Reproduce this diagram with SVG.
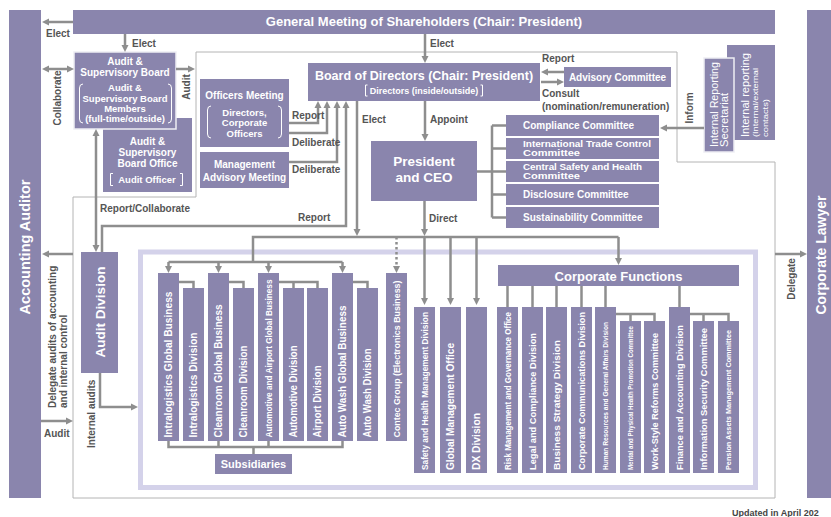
<svg xmlns="http://www.w3.org/2000/svg" width="831" height="517" viewBox="0 0 831 517">
<defs>
<style>
.b{fill:#8a85ad}
.bo{fill:#8a85ad;stroke:#eeeef4;stroke-width:1.5}
text{font-family:"Liberation Sans",Arial,Helvetica,sans-serif;font-weight:bold}
.w{fill:#fff}
.r{font-weight:normal}
.l{fill:#555;font-size:10px}
.c{stroke:#8e8e8e;stroke-width:2.5;fill:none}
.e{marker-end:url(#ah)}
.s{marker-start:url(#as)}
.o{stroke:#b4b4b4;stroke-width:1;fill:none}
.br{stroke:#fff;stroke-width:1;fill:none}
.v{fill:#fff}
</style>
<marker id="ah" viewBox="0 0 7 8" refX="3" refY="4" markerWidth="7" markerHeight="8" markerUnits="userSpaceOnUse" orient="auto"><path d="M0,0.5 L7,4 L0,7.5 z" fill="#8e8e8e"/></marker>
<marker id="as" viewBox="0 0 7 8" refX="3" refY="4" markerWidth="7" markerHeight="8" markerUnits="userSpaceOnUse" orient="auto-start-reverse"><path d="M0,0.5 L7,4 L0,7.5 z" fill="#8e8e8e"/></marker>
</defs>
<rect width="831" height="517" fill="#fff"/>

<g id="frames">
<path class="o" d="M196,52 H677 V162 H775 V498 H73 V197 H196 Z"/>
<rect x="140.5" y="252" width="615" height="235.5" fill="none" stroke="#d4d2ea" stroke-width="5"/>
</g>

<g id="accounting-auditor"><rect class="b" x="9" y="10" width="32" height="488"/><text class="w" font-size="14.5" text-anchor="middle" transform="translate(30,247) rotate(-90)">Accounting Auditor</text></g>
<g id="corporate-lawyer"><rect class="b" x="807" y="10" width="30" height="488"/><text class="w" font-size="14" text-anchor="middle" transform="translate(826,255) rotate(-90)">Corporate Lawyer</text></g>
<g id="general-meeting"><rect class="b" x="73" y="10" width="702" height="24"/><text class="w" font-size="13" x="424" y="26" text-anchor="middle">General Meeting of Shareholders (Chair: President)</text></g>

<g id="asb-office"><rect class="b" x="103" y="118" width="89" height="74"/>
<g class="w" font-size="10" text-anchor="middle"><text x="147.5" y="144.5">Audit &amp;</text><text x="147.5" y="156">Supervisory</text><text x="147.5" y="167">Board Office</text><text x="147" y="182.5" font-size="9.5">Audit Officer</text></g>
<path class="br" d="M113,173.5 H110.5 V185.5 H113 M180,173.5 H182.5 V185.5 H180"/></g>

<g id="asb"><rect class="bo" x="74" y="52" width="102" height="77"/>
<g class="w" text-anchor="middle"><text x="125" y="65" font-size="10">Audit &amp;</text><text x="125" y="76" font-size="10">Supervisory Board</text>
<text x="125" y="91" font-size="9.5">Audit &amp;</text><text x="125" y="102" font-size="9.5">Supervisory Board</text><text x="125" y="112" font-size="9.5">Members</text><text x="125" y="122" font-size="9.5">(full-time/outside)</text></g>
<path class="br" d="M83,84 Q79.5,84 79.5,88 V119 Q79.5,123 83,123 M168,84 Q171.5,84 171.5,88 V119 Q171.5,123 168,123"/></g>

<g id="officers-meeting"><rect class="b" x="200" y="79" width="89" height="68"/>
<g class="w" text-anchor="middle"><text x="244.5" y="99" font-size="10">Officers Meeting</text><text x="244.5" y="115.5" font-size="9.5">Directors,</text><text x="244.5" y="126" font-size="9.5">Corporate</text><text x="244.5" y="137" font-size="9.5">Officers</text></g>
<path class="br" d="M211,106 Q207.5,106 207.5,110 V134 Q207.5,138 211,138 M278,106 Q281.5,106 281.5,110 V134 Q281.5,138 278,138"/></g>

<g id="management-advisory"><rect class="b" x="200" y="152" width="89" height="36"/>
<g class="w" font-size="10" text-anchor="middle"><text x="244.5" y="168">Management</text><text x="244.5" y="181">Advisory Meeting</text></g></g>

<g id="board"><rect class="b" x="308" y="63" width="232" height="38"/>
<text class="w" font-size="12.5" x="424" y="80" text-anchor="middle">Board of Directors (Chair: President)</text>
<text class="w" font-size="9" x="424" y="93.5" text-anchor="middle">Directors (inside/outside)</text>
<path class="br" d="M367.5,85 H365.5 V96 H367.5 M480.5,85 H482.5 V96 H480.5"/></g>

<g id="advisory-committee"><rect class="b" x="564" y="67" width="107" height="20"/><text class="w" font-size="10" x="617.5" y="80.5" text-anchor="middle">Advisory Committee</text></g>

<g id="president"><rect class="b" x="371" y="141" width="106" height="60"/>
<g class="w" font-size="13.5" text-anchor="middle"><text x="424" y="166">President</text><text x="424" y="182">and CEO</text></g></g>

<g id="compliance"><rect class="b" x="506" y="115" width="153" height="21"/><text class="w" font-size="10" x="523" y="129">Compliance Committee</text></g>
<g id="trade-control"><rect class="b" x="506" y="138" width="153" height="21"/><text class="w" font-size="8.8" textLength="128" lengthAdjust="spacingAndGlyphs" x="523" y="146.5">International Trade Control</text><text class="w" font-size="8.8" textLength="57" lengthAdjust="spacingAndGlyphs" x="523" y="156">Committee</text></g>
<g id="safety-health-committee"><rect class="b" x="506" y="161" width="153" height="21"/><text class="w" font-size="8.8" textLength="119" lengthAdjust="spacingAndGlyphs" x="523" y="169.5">Central Safety and Health</text><text class="w" font-size="8.8" textLength="57" lengthAdjust="spacingAndGlyphs" x="523" y="179">Committee</text></g>
<g id="disclosure"><rect class="b" x="506" y="184" width="153" height="21"/><text class="w" font-size="10" x="523" y="198">Disclosure Committee</text></g>
<g id="sustainability"><rect class="b" x="506" y="207" width="153" height="21"/><text class="w" font-size="10" x="523" y="221">Sustainability Committee</text></g>

<g id="internal-reporting"><rect class="b" x="727" y="45" width="48" height="95"/>
<text class="w r" font-size="11" textLength="84" lengthAdjust="spacingAndGlyphs" transform="translate(749,137) rotate(-90)">Internal reporting</text>
<text class="w r" font-size="7.5" textLength="69" lengthAdjust="spacingAndGlyphs" transform="translate(757.5,137) rotate(-90)">(Internal/external</text>
<text class="w r" font-size="7.5" textLength="38" lengthAdjust="spacingAndGlyphs" transform="translate(767.5,137) rotate(-90)">contacts)</text></g>
<g id="reporting-secretariat"><rect class="bo" x="704" y="58" width="30" height="94"/>
<text class="w r" font-size="10.5" textLength="85" lengthAdjust="spacingAndGlyphs" transform="translate(717.5,147) rotate(-90)">Internal Reporting</text>
<text class="w r" font-size="10.5" textLength="54" lengthAdjust="spacingAndGlyphs" transform="translate(727.5,147) rotate(-90)">Secretariat</text></g>

<g id="audit-division"><rect class="b" x="81" y="252" width="37" height="121"/><text class="w" font-size="13.5" text-anchor="middle" transform="translate(104.5,312) rotate(-90)">Audit Division</text></g>

<g id="intralogistics-global"><rect class="b" x="158" y="273" width="21" height="168"/><text class="v" font-size="10" textLength="146" lengthAdjust="spacingAndGlyphs" transform="translate(172,437.5) rotate(-90)">Intralogistics Global Business</text></g>
<g id="intralogistics-division"><rect class="b" x="183" y="288" width="21" height="153"/><text class="v" font-size="10" textLength="105" lengthAdjust="spacingAndGlyphs" transform="translate(197,437.5) rotate(-90)">Intralogistics Division</text></g>
<g id="cleanroom-global"><rect class="b" x="208" y="273" width="21" height="168"/><text class="v" font-size="10" textLength="133" lengthAdjust="spacingAndGlyphs" transform="translate(222,437.5) rotate(-90)">Cleanroom Global Business</text></g>
<g id="cleanroom-division"><rect class="b" x="233" y="288" width="21" height="153"/><text class="v" font-size="10" textLength="92" lengthAdjust="spacingAndGlyphs" transform="translate(247,437.5) rotate(-90)">Cleanroom Division</text></g>
<g id="automotive-airport-global"><rect class="b" x="258" y="273" width="21" height="168"/><text class="v" font-size="9" textLength="158" lengthAdjust="spacingAndGlyphs" transform="translate(271.7,437.5) rotate(-90)">Automotive and Airport Global Business</text></g>
<g id="automotive-division"><rect class="b" x="283" y="288" width="21" height="153"/><text class="v" font-size="10" textLength="92" lengthAdjust="spacingAndGlyphs" transform="translate(297,437.5) rotate(-90)">Automotive Division</text></g>
<g id="airport-division"><rect class="b" x="307" y="288" width="21" height="153"/><text class="v" font-size="10" textLength="72" lengthAdjust="spacingAndGlyphs" transform="translate(321,437.5) rotate(-90)">Airport Division</text></g>
<g id="autowash-global"><rect class="b" x="332" y="273" width="21" height="168"/><text class="v" font-size="10" textLength="132" lengthAdjust="spacingAndGlyphs" transform="translate(346,437.5) rotate(-90)">Auto Wash Global Business</text></g>
<g id="autowash-division"><rect class="b" x="357" y="288" width="21" height="153"/><text class="v" font-size="10" textLength="89" lengthAdjust="spacingAndGlyphs" transform="translate(371,437.5) rotate(-90)">Auto Wash Division</text></g>
<g id="contec"><rect class="b" x="386" y="273" width="21" height="168"/><text class="v" font-size="9.5" textLength="157" lengthAdjust="spacingAndGlyphs" transform="translate(399.8,437.5) rotate(-90)">Contec Group (Electronics Business)</text></g>
<g id="subsidiaries"><rect class="b" x="215" y="454" width="77" height="20"/><text class="w" font-size="11" x="253.5" y="468" text-anchor="middle">Subsidiaries</text></g>

<g id="safety-health-division"><rect class="b" x="414" y="307" width="21" height="166"/><text class="v" font-size="8.5" textLength="158" lengthAdjust="spacingAndGlyphs" transform="translate(427.5,470) rotate(-90)">Safety and Health Management Division</text></g>
<g id="global-management"><rect class="b" x="440" y="307" width="21" height="166"/><text class="v" font-size="10" textLength="127" lengthAdjust="spacingAndGlyphs" transform="translate(454,470) rotate(-90)">Global Management Office</text></g>
<g id="dx-division"><rect class="b" x="466" y="307" width="21" height="166"/><text class="v" font-size="10.5" textLength="57" lengthAdjust="spacingAndGlyphs" transform="translate(480.2,470) rotate(-90)">DX Division</text></g>
<g id="corporate-functions"><rect class="b" x="498" y="265" width="241" height="21"/><text class="w" font-size="13" x="618.5" y="280.5" text-anchor="middle">Corporate Functions</text></g>
<g id="risk-management"><rect class="b" x="497" y="307" width="21" height="166"/><text class="v" font-size="8.5" textLength="158" lengthAdjust="spacingAndGlyphs" transform="translate(510.5,470) rotate(-90)">Risk Management and Governance Office</text></g>
<g id="legal-compliance"><rect class="b" x="522" y="307" width="21" height="166"/><text class="v" font-size="9.5" textLength="137" lengthAdjust="spacingAndGlyphs" transform="translate(535.8,470) rotate(-90)">Legal and Compliance Division</text></g>
<g id="business-strategy"><rect class="b" x="546" y="307" width="21" height="166"/><text class="v" font-size="9.5" textLength="130" lengthAdjust="spacingAndGlyphs" transform="translate(559.8,470) rotate(-90)">Business Strategy Division</text></g>
<g id="corporate-communications"><rect class="b" x="571" y="307" width="21" height="166"/><text class="v" font-size="9.5" textLength="158" lengthAdjust="spacingAndGlyphs" transform="translate(584.8,470) rotate(-90)">Corporate Communications Division</text></g>
<g id="human-resources"><rect class="b" x="595" y="307" width="21" height="166"/><text class="v" font-size="7.5" textLength="148" lengthAdjust="spacingAndGlyphs" transform="translate(608.2,470) rotate(-90)">Human Resources and General Affairs Division</text></g>
<g id="mental-health"><rect class="b" x="620" y="321" width="21" height="152"/><text class="v" font-size="7" textLength="144" lengthAdjust="spacingAndGlyphs" transform="translate(633,470) rotate(-90)">Mental and Physical Health Promotion Committee</text></g>
<g id="work-style"><rect class="b" x="644" y="321" width="21" height="152"/><text class="v" font-size="9.5" textLength="137" lengthAdjust="spacingAndGlyphs" transform="translate(657.8,470) rotate(-90)">Work-Style Reforms Committee</text></g>
<g id="finance-accounting"><rect class="b" x="669" y="307" width="21" height="166"/><text class="v" font-size="9.5" textLength="145" lengthAdjust="spacingAndGlyphs" transform="translate(682.8,470) rotate(-90)">Finance  and Accounting Division</text></g>
<g id="information-security"><rect class="b" x="693" y="321" width="21" height="152"/><text class="v" font-size="9.5" textLength="142" lengthAdjust="spacingAndGlyphs" transform="translate(706.8,470) rotate(-90)">Information Security Committee</text></g>
<g id="pension-assets"><rect class="b" x="718" y="321" width="21" height="152"/><text class="v" font-size="8" textLength="140" lengthAdjust="spacingAndGlyphs" transform="translate(731.3,470) rotate(-90)">Pension Assets Management Committee</text></g>

<g id="connectors">
<path class="c e" d="M73,22 H46"/>
<path class="c e" d="M125,34 V48"/>
<path class="c e s" d="M46,69 H70"/>
<path class="c e" d="M176,69 H191"/>
<path class="c e" d="M425,34 V59"/>
<path class="c e" d="M564,72 H545"/>
<path class="c e" d="M541,82 H560"/>
<path class="c e" d="M289,123 H318 V105"/>
<path class="c e" d="M289,133 H327 V105"/>
<path class="c e" d="M289,162 H337 V105"/>
<path class="c e" d="M102,252 V226 H346 V105"/>
<path class="c e s" d="M96,133 V248"/>
<path class="c e" d="M357,101 V232"/>
<path class="c e" d="M425,101 V137"/>
<path class="c e" d="M424.5,201 V232"/>
<path class="c" d="M253,262 V237 H618.5"/>
<path class="c e" d="M618.5,237 V261"/>
<path class="c e" d="M396.5,237 V269" stroke-dasharray="2.5,2.5"/>
<path class="c e" d="M424.5,237 V301"/>
<path class="c e" d="M450.5,237 V301"/>
<path class="c e" d="M476.5,237 V301"/>
<path class="c" d="M168.5,262 H342.5"/>
<path class="c e" d="M168.5,262 V269"/>
<path class="c e" d="M218.5,262 V269"/>
<path class="c e" d="M268.5,262 V269"/>
<path class="c e" d="M342.5,262 V269"/>
<path class="c" d="M179,282 H193.5 V288 M229,282 H243.5 V288 M279,282 H317.5 V288 M293.5,282 V288 M353,282 H367.5 V288"/>
<path class="c" d="M168.5,441 V447 H342.5 V441 M218.5,441 V447 M268.5,441 V447 M253.5,447 V454"/>
<path class="c" d="M507.5,286 V307 M532.5,286 V307 M556.5,286 V307 M581.5,286 V307 M605.5,286 V307 M679.5,286 V307"/>
<path class="c" d="M616,314 H630.5 V321 M630.5,314 H654.5 V321 M690,314 H703.5 V321 M703.5,314 H728.5 V321"/>
<path class="c" d="M477,171.5 H492 M492,125.5 V217.5 M492,125.5 H506 M492,148.5 H506 M492,171.5 H506 M492,194.5 H506 M492,217.5 H506"/>
<path class="c e" d="M704,128 H664"/>
<path class="c e" d="M73,254 H46"/>
<path class="c e" d="M41,421 H69"/>
<path class="c e" d="M100,373 V407 H134"/>
<path class="c e" d="M775,254 H803"/>
</g>

<g id="labels">
<text class="l" x="46" y="37">Elect</text>
<text class="l" x="132" y="47">Elect</text>
<text class="l" x="430" y="47">Elect</text>
<text class="l" text-anchor="middle" transform="translate(61,98) rotate(-90)">Collaborate</text>
<text class="l" text-anchor="middle" transform="translate(190,87) rotate(-90)">Audit</text>
<text class="l" x="542" y="62">Report</text>
<text class="l" x="542" y="97">Consult</text>
<text class="l" x="542" y="109.5">(nomination/remuneration)</text>
<text class="l" x="292" y="119">Report</text>
<text class="l" x="292" y="146">Deliberate</text>
<text class="l" x="292" y="173">Deliberate</text>
<text class="l" x="362" y="123">Elect</text>
<text class="l" x="430" y="123">Appoint</text>
<text class="l" x="100" y="212">Report/Collaborate</text>
<text class="l" x="298" y="221">Report</text>
<text class="l" x="429" y="222">Direct</text>
<text class="l" text-anchor="middle" transform="translate(692.5,108) rotate(-90)">Inform</text>
<text class="l" text-anchor="middle" transform="translate(794.5,279) rotate(-90)">Delegate</text>
<text class="l" transform="translate(55.5,408) rotate(-90)">Delegate audits of accounting</text>
<text class="l" transform="translate(66.5,408) rotate(-90)">and internal control</text>
<text class="l" x="44" y="437">Audit</text>
<text class="l" transform="translate(94.5,448) rotate(-90)">Internal audits</text>
<text x="732" y="515.5" font-size="9" fill="#444">Updated in April 202</text>
</g>
</svg>
